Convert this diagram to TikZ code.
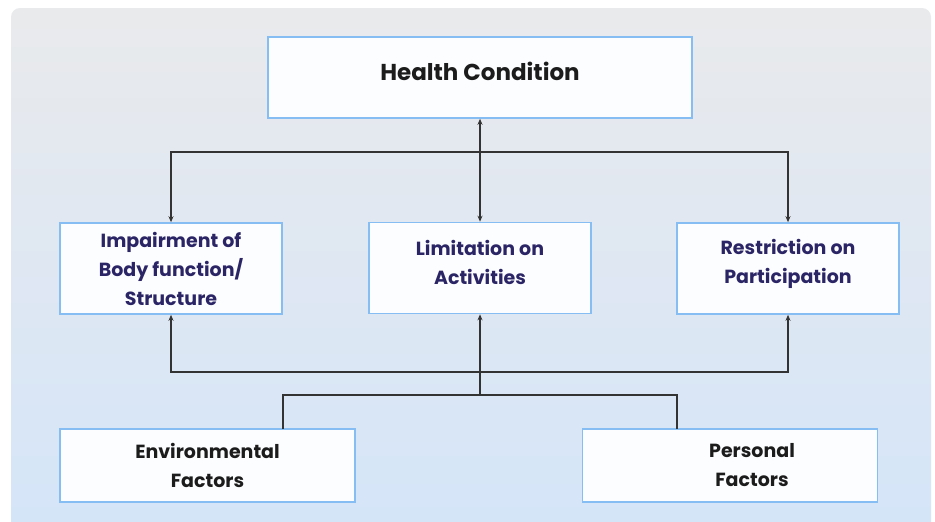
\documentclass[tikz,border=0pt]{standalone}
\usepackage{fontspec}
\setmainfont{Poppins}
\usetikzlibrary{arrows.meta,calc}
\definecolor{bgtop}{HTML}{E9EAEC}
\definecolor{bgbot}{HTML}{D4E5F9}
\definecolor{boxline}{HTML}{86BDF2}
\definecolor{boxfill}{HTML}{FCFDFF}
\definecolor{navy}{HTML}{2B2566}
\definecolor{ink}{HTML}{1C1C1C}
\tikzset{
  wire/.style={draw=ink!90,line width=1.4pt,>={Stealth[length=6pt,width=5pt]}},
}

\begin{document}
\begin{tikzpicture}[x=1pt,y=-1pt,
   box/.style={draw=boxline,fill=boxfill,line width=1.6pt,align=center,inner sep=0pt,
     font=\bfseries\fontsize{19}{29}\selectfont},
   top/.style={box,minimum width=424pt,minimum height=81pt},
   mid/.style={box,minimum width=222pt,minimum height=91pt,text=navy},
   low/.style={box,minimum width=295pt,minimum height=73pt,text=ink},
   txt/.style={align=center,inner sep=0pt,font=\bfseries\fontsize{19}{29}\selectfont}]
\useasboundingbox (0,0) rectangle (935,522);
% Hintergrund
\fill[white] (0,0) rectangle (935,522);
\begin{scope}
  \clip (0,0) rectangle (935,522);
  \shade[top color=bgtop,bottom color=bgbot,rounded corners=9pt] (11,8) rectangle (931,545);
\end{scope}
% Kaesten
\node[top] (hc) at (480,77.5) {};
\node[txt,text=ink,font=\bfseries\fontsize{23}{28}\selectfont] (hctxt) at (480,71) {Health Condition};
\node[mid] (imp) at (171,268.5) {Impairment of\\Body function/\\Structure};
\node[mid] (lim) at (480,268) {};
\node[txt,text=navy] (limtxt) at (480,262) {Limitation on\\Activities};
\node[mid] (res) at (788,268.5) {};
\node[txt,text=navy] (restxt) at (788,264) {Restriction on\\Participation};
\node[low] (env) at (207.5,465.5) {Environmental\\Factors};
\node[low] (per) at (730,465.5) {};
\node[txt,text=ink] (pertxt) at ($(per)+(22,0)$) {Personal\\Factors};
% Verbindungen oben
\coordinate (topbus) at (480,152);
\draw[wire,<->] (hc.south) -- (lim.north);
\draw[wire,->] (topbus) -| (imp.north);
\draw[wire,->] (topbus) -| (res.north);
% Verbindungen unten
\coordinate (botbus) at (480,372);
\coordinate (fork) at (480,395);
\coordinate (envtop) at (283,429);
\coordinate (pertop) at (677,429);
\draw[wire,->] (botbus) -| (imp.south);
\draw[wire,->] (botbus) -| (res.south);
\draw[wire,->] (fork) -- (lim.south);
\draw[wire] (envtop) |- (fork) -| (pertop);
\end{tikzpicture}
\end{document}
